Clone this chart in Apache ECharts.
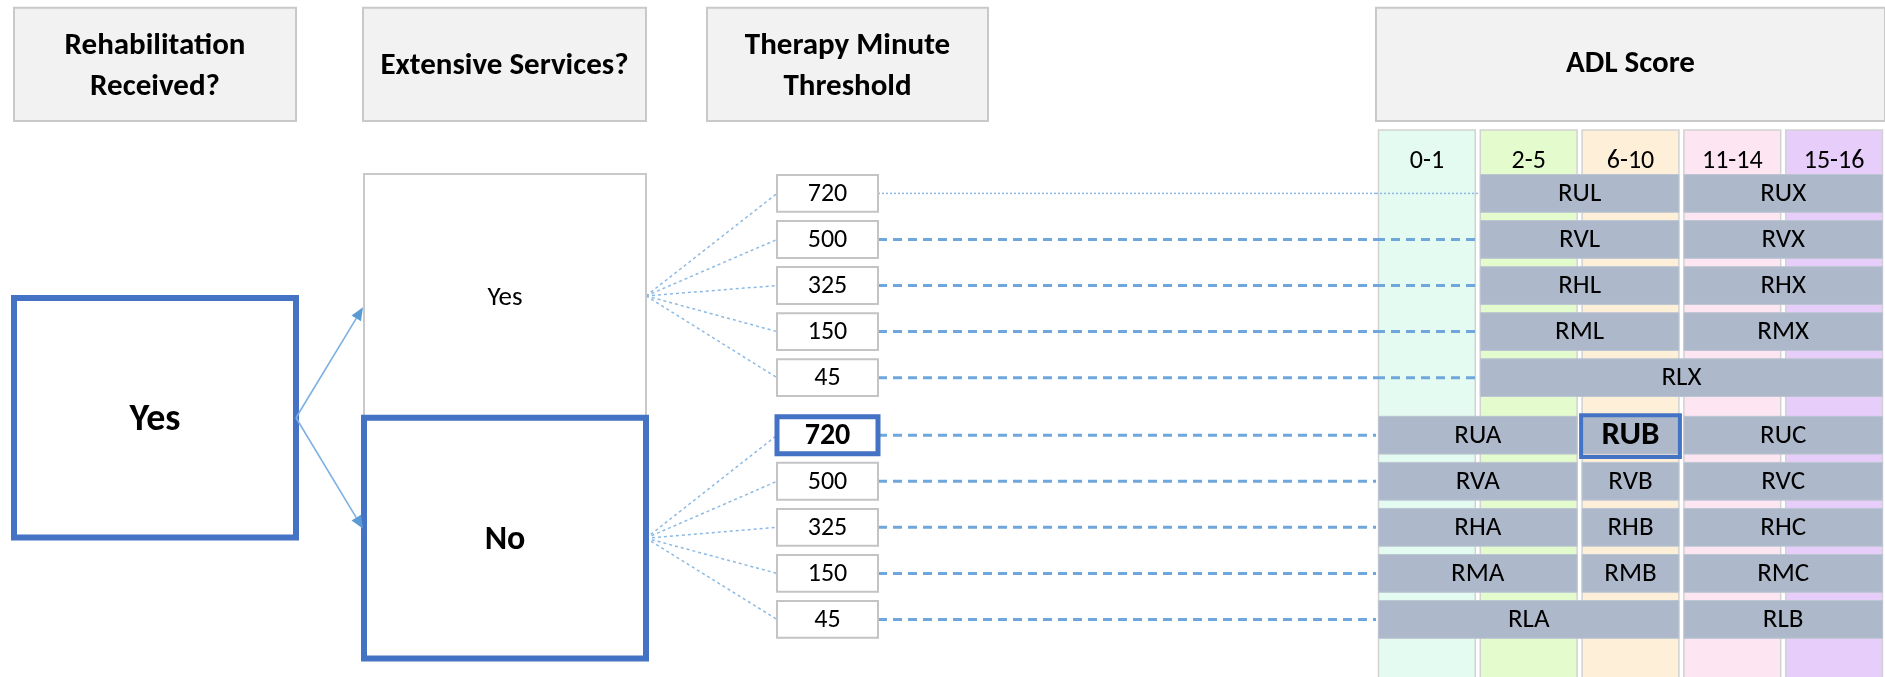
<!DOCTYPE html>
<html><head><meta charset="utf-8">
<script src="https://cdn.jsdelivr.net/npm/echarts@6/dist/echarts.min.js"></script>
<style>html,body{margin:0;padding:0;background:#fff}#c{width:1885px;height:677px}</style>
</head><body><div id="c"></div>
<script>
// ---------------- data ----------------
const stageHeaders = ['Rehabilitation\nReceived?', 'Extensive Services?', 'Therapy Minute\nThreshold'];
const adlHeader = 'ADL Score';
const rehabAnswer = 'Yes';
const extensiveAnswers = ['Yes', 'No'];
const thresholds = [720, 500, 325, 150, 45];
const adlBands = ['0-1', '2-5', '6-10', '11-14', '15-16'];
// each threshold row: [group code, first ADL band index, last ADL band index]
const groupsExtensiveYes = [
  [['RUL', 1, 2], ['RUX', 3, 4]],
  [['RVL', 1, 2], ['RVX', 3, 4]],
  [['RHL', 1, 2], ['RHX', 3, 4]],
  [['RML', 1, 2], ['RMX', 3, 4]],
  [['RLX', 1, 4]]
];
const groupsExtensiveNo = [
  [['RUA', 0, 1], ['RUB', 2, 2], ['RUC', 3, 4]],
  [['RVA', 0, 1], ['RVB', 2, 2], ['RVC', 3, 4]],
  [['RHA', 0, 1], ['RHB', 2, 2], ['RHC', 3, 4]],
  [['RMA', 0, 1], ['RMB', 2, 2], ['RMC', 3, 4]],
  [['RLA', 0, 2], ['RLB', 3, 4]]
];
const selected = { extensive: 1, threshold: 0, group: 'RUB' };

// ---------------- layout & style (not data) ----------------
const L = {
  yMin: -4.2, yMax: 10.5, groupGap: 0.25,
  headerY: [-4.03, -1.57],
  bandHeadY: -1.376, bandLabelY: -0.7,
  halfRow: 0.41, halfThr: 0.4,
  adlLeft: 1376, adlWidth: 522.5,
  headerX: [[14, 296], [363, 646], [707, 988]],
  rehabX: [14, 296], rehabY: [2.27, 7.47],
  extX: [364, 646], extY: [[-0.42, 4.87], [4.87, 10.1]],
  thrX: [777, 878],
  arrowTipY: [2.47, 7.28]
};
const bandColors = ['#E3FBF1', '#E4FCCD', '#FEF0D8', '#FDE6F2', '#E7CDFA'];
const BLUE = '#4472C4', LINE = '#6FA7DC', DOT = '#8DBAE4', BAR = '#ADB9CA';
const FONT = "Carlito, Lato, 'Liberation Sans', sans-serif";

const allGroups = [groupsExtensiveYes, groupsExtensiveNo];
const rowY = (g, i) => g * (thresholds.length + L.groupGap) + i;
const rows = [];
extensiveAnswers.forEach((_, g) => thresholds.forEach((_, i) => rows.push([g, i])));
const segs = [];
allGroups.forEach((grp, g) => grp.forEach((row, i) => row.forEach(s => segs.push([g, i, s[0], s[1], s[2]]))));

function txt(x, y, text, size, weight, extra) {
  return { type: 'text', z2: 10, silent: true, style: Object.assign({ text: String(text), x, y, fill: '#000', fontSize: size, fontWeight: weight || 'normal', fontFamily: FONT, align: 'center', verticalAlign: 'middle' }, extra || {}) };
}
function rect(p1, p2, style) {
  return { type: 'rect', shape: { x: Math.min(p1[0], p2[0]), y: Math.min(p1[1], p2[1]), width: Math.abs(p2[0] - p1[0]), height: Math.abs(p2[1] - p1[1]) }, style };
}

const flowAxes = { xAxisIndex: 1, yAxisIndex: 1 };
const adlAxes = { xAxisIndex: 0, yAxisIndex: 0 };

const series = [
  // ADL band columns
  Object.assign({ type: 'custom', z: 1, data: adlBands.map((b, i) => [i]), renderItem(params, api) {
    const i = params.dataIndex;
    const c = api.coord([i, L.bandHeadY]);
    const bw = api.size([1, 0])[0];
    const yb = api.coord([i, L.yMax + 0.5])[1];
    return { type: 'group', children: [
      rect([c[0] - bw / 2 + 2.5, c[1]], [c[0] + bw / 2 - 2.5, yb], { fill: bandColors[i], stroke: '#D2D2D2', lineWidth: 1.5 }),
      txt(c[0], api.coord([i, L.bandLabelY])[1], adlBands[i], 26)
    ] };
  } }, adlAxes),
  // ADL header
  Object.assign({ type: 'custom', z: 1, data: [[0]], renderItem(params, api) {
    const bw = api.size([1, 0])[0];
    const a = api.coord([0, L.headerY[0]]), b = api.coord([adlBands.length - 1, L.headerY[1]]);
    return { type: 'group', children: [
      rect([a[0] - bw / 2, a[1]], [b[0] + bw / 2, b[1]], { fill: '#F2F2F2', stroke: '#C9C9C9', lineWidth: 2 }),
      txt((a[0] + b[0]) / 2, (a[1] + b[1]) / 2, adlHeader, 31, 'bold')
    ] };
  } }, adlAxes),
  // connector continuation inside ADL area (up to first bar)
  Object.assign({ type: 'custom', z: 2, data: rows, renderItem(params, api) {
    const [g, i] = rows[params.dataIndex];
    const first = allGroups[g][i][0][1];
    if (first === 0) return { type: 'group', children: [] };
    const y = rowY(g, i);
    const bw = api.size([1, 0])[0];
    const x0 = api.coord([0, y])[0] - bw / 2;
    const x1 = api.coord([first, y])[0] - bw / 2 + 2.5;
    const yy = api.coord([0, y])[1];
    const thin = (g === 0 && i === 0);
    return { type: 'line', shape: { x1: x0, y1: yy, x2: x1, y2: yy }, style: thin ? { stroke: DOT, lineWidth: 1.5, lineDash: [2, 2] } : { stroke: LINE, lineWidth: 3, lineDash: [9, 6] } };
  } }, adlAxes),
  // RUG group bars
  Object.assign({ type: 'custom', z: 3, data: segs, renderItem(params, api) {
    const [g, i, code, first, last] = segs[params.dataIndex];
    const y = rowY(g, i);
    const bw = api.size([1, 0])[0];
    const x0 = api.coord([first, y])[0] - bw / 2 + 2.5;
    const x1 = api.coord([last, y])[0] + bw / 2 - 2.5;
    const yt = api.coord([first, y - L.halfRow])[1], yb = api.coord([first, y + L.halfRow])[1];
    const sel = code === selected.group;
    const ch = [rect([x0, yt], [x1, yb], { fill: BAR, stroke: '#BCC5D2', lineWidth: 1 })];
    if (sel) ch.push(rect([x0 - 1, yt - 1], [x1 + 1, yb + 3], { fill: 'none', stroke: BLUE, lineWidth: 4 }));
    ch.push(txt((x0 + x1) / 2, (yt + yb) / 2 + 1, code, sel ? 33 : 27, sel ? 'bold' : 'normal'));
    return { type: 'group', children: ch };
  } }, adlAxes),
  // stage headers
  Object.assign({ type: 'custom', z: 1, data: stageHeaders.map((h, i) => [i]), renderItem(params, api) {
    const i = params.dataIndex;
    const a = api.coord([L.headerX[i][0], L.headerY[0]]), b = api.coord([L.headerX[i][1], L.headerY[1]]);
    return { type: 'group', children: [
      rect(a, b, { fill: '#F2F2F2', stroke: '#C9C9C9', lineWidth: 2 }),
      txt((a[0] + b[0]) / 2, (a[1] + b[1]) / 2 + 2, stageHeaders[i], 31, 'bold', { lineHeight: 41 })
    ] };
  } }, flowAxes),
  // rehab box
  Object.assign({ type: 'custom', z: 2, data: [[0]], renderItem(params, api) {
    const a = api.coord([L.rehabX[0], L.rehabY[0]]), b = api.coord([L.rehabX[1], L.rehabY[1]]);
    return { type: 'group', children: [
      rect(a, b, { fill: '#fff', stroke: BLUE, lineWidth: 6 }),
      txt((a[0] + b[0]) / 2, (a[1] + b[1]) / 2 + 3, rehabAnswer, 38, 'bold')
    ] };
  } }, flowAxes),
  // extensive services boxes
  Object.assign({ type: 'custom', z: 2, data: extensiveAnswers.map((e, g) => [g]), renderItem(params, api) {
    const g = params.dataIndex;
    const sel = g === selected.extensive;
    const a = api.coord([L.extX[0], L.extY[g][0]]), b = api.coord([L.extX[1], L.extY[g][1]]);
    return { type: 'group', children: [
      rect(a, b, sel ? { fill: '#fff', stroke: BLUE, lineWidth: 6 } : { fill: '#fff', stroke: '#C9C9C9', lineWidth: 2 }),
      txt((a[0] + b[0]) / 2, (a[1] + b[1]) / 2 + 2, extensiveAnswers[g], sel ? 34 : 27, sel ? 'bold' : 'normal')
    ] };
  } }, flowAxes),
  // arrows
  Object.assign({ type: 'custom', z: 3, data: extensiveAnswers.map((e, g) => [g]), renderItem(params, api) {
    const g = params.dataIndex;
    const f = api.coord([L.rehabX[1], (L.rehabY[0] + L.rehabY[1]) / 2]);
    const t = api.coord([L.extX[0] - 1, L.arrowTipY[g]]);
    const dx = t[0] - f[0], dy = t[1] - f[1], len = Math.hypot(dx, dy);
    const ux = dx / len, uy = dy / len, hl = 13, hw = 5.5;
    const bx = t[0] - ux * hl, by = t[1] - uy * hl;
    return { type: 'group', children: [
      { type: 'line', shape: { x1: f[0], y1: f[1], x2: bx, y2: by }, style: { stroke: '#7DB1E3', lineWidth: 1.6 } },
      { type: 'polygon', shape: { points: [t, [bx - uy * hw, by + ux * hw], [bx + uy * hw, by - ux * hw]] }, style: { fill: '#5B9BD5' } }
    ] };
  } }, flowAxes),
  // fan lines
  Object.assign({ type: 'custom', z: 1, data: rows, renderItem(params, api) {
    const [g, i] = rows[params.dataIndex];
    const f = api.coord([L.extX[1], (L.extY[g][0] + L.extY[g][1]) / 2]);
    const t = api.coord([L.thrX[0], rowY(g, i)]);
    return { type: 'line', shape: { x1: f[0], y1: f[1], x2: t[0], y2: t[1] }, style: { stroke: DOT, lineWidth: 1.5, lineDash: [3, 3] } };
  } }, flowAxes),
  // connectors to ADL area
  Object.assign({ type: 'custom', z: 1, data: rows, renderItem(params, api) {
    const [g, i] = rows[params.dataIndex];
    const f = api.coord([L.thrX[1], rowY(g, i)]);
    const t = api.coord([L.adlLeft, rowY(g, i)]);
    const thin = (g === 0 && i === 0);
    return { type: 'line', shape: { x1: f[0], y1: f[1], x2: t[0], y2: t[1] }, style: thin ? { stroke: DOT, lineWidth: 1.5, lineDash: [2, 2] } : { stroke: LINE, lineWidth: 3, lineDash: [9, 6] } };
  } }, flowAxes),
  // threshold boxes
  Object.assign({ type: 'custom', z: 3, data: rows, renderItem(params, api) {
    const [g, i] = rows[params.dataIndex];
    const y = rowY(g, i);
    const sel = g === selected.extensive && i === selected.threshold;
    const a = api.coord([L.thrX[0], y - L.halfThr]), b = api.coord([L.thrX[1], y + L.halfThr]);
    return { type: 'group', children: [
      rect(a, b, sel ? { fill: '#fff', stroke: BLUE, lineWidth: 5 } : { fill: '#fff', stroke: '#C4C4C4', lineWidth: 2 }),
      txt((a[0] + b[0]) / 2, (a[1] + b[1]) / 2 + 1, thresholds[i], sel ? 30 : 26, sel ? 'bold' : 'normal')
    ] };
  } }, flowAxes)
];

const hidden = { axisLine: { show: false }, axisTick: { show: false }, axisLabel: { show: false }, splitLine: { show: false } };
const chart = echarts.init(document.getElementById('c'), null, { renderer: 'canvas' });
chart.setOption({
  animation: false,
  backgroundColor: '#fff',
  grid: [
    { left: L.adlLeft, top: 0, width: L.adlWidth, height: 677 },
    { left: 0, top: 0, width: 1885, height: 677 }
  ],
  xAxis: [
    Object.assign({ type: 'category', gridIndex: 0, data: adlBands, boundaryGap: true }, hidden),
    Object.assign({ type: 'value', gridIndex: 1, min: 0, max: 1885 }, hidden)
  ],
  yAxis: [
    Object.assign({ type: 'value', gridIndex: 0, min: L.yMin, max: L.yMax, inverse: true }, hidden),
    Object.assign({ type: 'value', gridIndex: 1, min: L.yMin, max: L.yMax, inverse: true }, hidden)
  ],
  series
});
</script>
</body></html>
